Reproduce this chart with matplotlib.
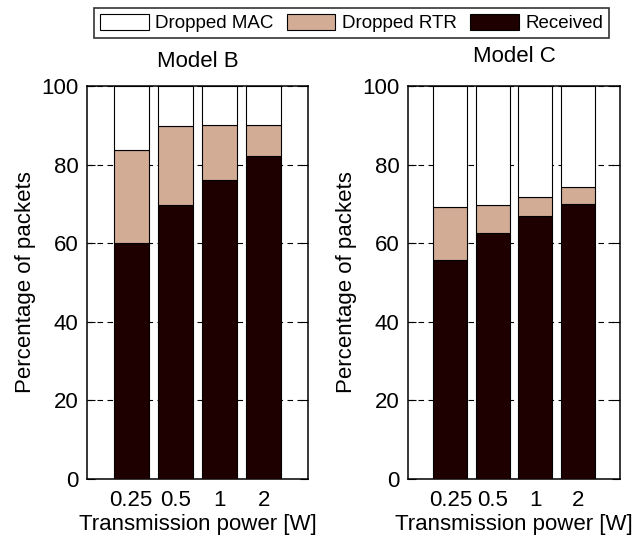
import numpy as np
import matplotlib.pyplot as plt
from matplotlib.patches import Patch

plt.rcParams['font.family'] = ['Liberation Sans', 'DejaVu Sans']

powers = ['0.25', '0.5', '1', '2']

# percentage of packets per transmission power
received_b = [60.0, 69.6, 76.2, 82.3]
total_b = [83.8, 89.9, 90.2, 90.2]      # received + dropped RTR
received_c = [55.8, 62.6, 67.0, 70.0]
total_c = [69.1, 69.6, 71.8, 74.4]

rtr_b = [t - r for t, r in zip(total_b, received_b)]
rtr_c = [t - r for t, r in zip(total_c, received_c)]
mac_b = [100 - t for t in total_b]
mac_c = [100 - t for t in total_c]

col_mac = 'white'
col_rtr = '#d2ac94'
col_rec = '#1e0000'

fig = plt.figure(figsize=(6.39, 5.38), dpi=100)
ax1 = fig.add_axes([87/639, 59/538, 221/639, 393/538])
ax2 = fig.add_axes([408/639, 59/538, 212/639, 393/538])

def draw(ax, rec, rtr, mac, title, title_pad):
    x = np.arange(len(powers))
    kw = dict(width=0.8, edgecolor='black', linewidth=0.8, zorder=3)
    ax.bar(x, rec, color=col_rec, **kw)
    ax.bar(x, rtr, bottom=rec, color=col_rtr, **kw)
    ax.bar(x, mac, bottom=np.add(rec, rtr), color=col_mac, **kw)
    ax.set_xlim(-1, 4)
    ax.set_ylim(0, 100)
    ax.set_xticks(x)
    ax.set_xticklabels(powers)
    ax.set_yticks([0, 20, 40, 60, 80, 100])
    ax.tick_params(axis='x', length=0, labelsize=16, pad=8)
    ax.tick_params(axis='y', direction='in', length=6, width=0.8,
                   right=True, labelsize=16, pad=6)
    ax.yaxis.grid(True, color='black', linestyle=(0, (5, 4)), linewidth=0.8, zorder=0)
    ax.set_axisbelow(True)
    for s in ax.spines.values():
        s.set_linewidth(1.1)
    ax.set_xlabel('Transmission power [W]', fontsize=16, labelpad=2)
    ax.set_ylabel('Percentage of packets', fontsize=16, labelpad=4)
    ax.set_title(title, fontsize=16, pad=title_pad)

draw(ax1, received_b, rtr_b, mac_b, 'Model B', 14)
draw(ax2, received_c, rtr_c, mac_c, 'Model C', 17)

handles = [Patch(facecolor=col_mac, edgecolor='black', linewidth=0.8, label='Dropped MAC'),
           Patch(facecolor=col_rtr, edgecolor='black', linewidth=0.8, label='Dropped RTR'),
           Patch(facecolor=col_rec, edgecolor='black', linewidth=0.8, label='Received')]
leg = fig.legend(handles=handles, loc='center', bbox_to_anchor=(0.55, 1 - 23/538),
                 ncol=3, fontsize=13.5, frameon=True, fancybox=False,
                 handlelength=2.6, handleheight=1.0, handletextpad=0.35,
                 columnspacing=0.7, borderpad=0.3, borderaxespad=0)
leg.get_frame().set_edgecolor('black')
leg.get_frame().set_linewidth(1.2)

fig.savefig('out.png', dpi=100)
